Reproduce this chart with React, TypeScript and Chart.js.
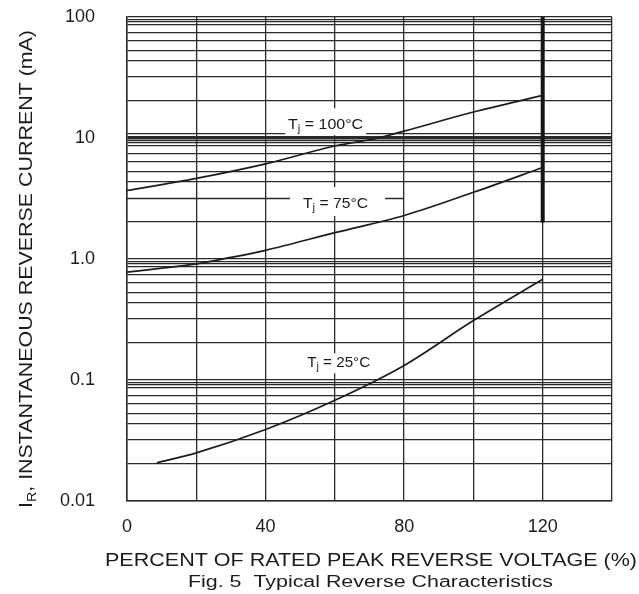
import React, { useEffect, useRef } from "react";
import { Chart, registerables } from "chart.js";

Chart.register(...registerables);

// ---------- values ----------
const xTicks = [0, 20, 40, 60, 80, 100, 120, 140];
const xTickLabels = ["0", "", "40", "", "80", "", "120", ""];
const yDecades = [0.01, 0.1, 1, 10, 100];
const yDecadeLabels = ["0.01", "0.1", "1.0", "10", "100"];
const yMinorFactors = [2.05, 3.2, 4.37, 5.3, 6.4, 7.45, 8.6, 9.12, 9.54];
const yExtraGrid = [10.9];
const yPartialGrid = 3.2; // broken grid line beside the 75°C label
const yPartialGridEndPct = 80;
const heavyGridValue = 10;

const pct100C = [0, 20, 40, 60, 72.5, 80, 100, 120];
const ir100C = [3.68, 4.64, 6.12, 8.59, 10, 11.4, 16.4, 22.5];
const pct75C = [0, 20, 30, 40, 60, 80, 100, 120];
const ir75C = [0.78, 0.91, 1.03, 1.18, 1.65, 2.29, 3.56, 5.7];
const pct25C = [8.6, 20, 40, 60, 80, 100, 120];
const ir25C = [0.0207, 0.025, 0.039, 0.068, 0.132, 0.31, 0.68];

const limitPct = [120, 120];
const limitIr = [100, 2.0];

const curveTemps = ["100°C", "75°C", "25°C"];
const labelPct = [46.5, 50.8, 52];
const labelIr = [13.0, 2.9, 0.14];

const xTitle = "PERCENT OF RATED PEAK REVERSE VOLTAGE (%)";
const caption = "Fig. 5  Typical Reverse Characteristics";
const yTitleMain = "I";
const yTitleSub = "R";
const yTitleRest = ", INSTANTANEOUS REVERSE CURRENT (mA)";

// ---------- styling ----------
const FONT = '"Liberation Sans", Arial, Helvetica, sans-serif';
const INK = "#1c1c1c";
const GRID = "#2a2a2a";

type Seg = { t: string; sub?: boolean };

// draws segments starting at (x, y), stretched horizontally to the target width
function drawSegs(
  ctx: CanvasRenderingContext2D,
  segs: Seg[],
  x: number,
  y: number,
  size: number,
  subSize: number,
  subDrop: number,
  target: number
) {
  const widths = segs.map((s) => {
    ctx.font = `${s.sub ? subSize : size}px ${FONT}`;
    return ctx.measureText(s.t).width;
  });
  const natural = widths.reduce((a, b) => a + b, 0);
  const sx = target / natural;
  ctx.save();
  ctx.translate(x, y);
  ctx.scale(sx, 1);
  let cx = 0;
  segs.forEach((s, i) => {
    ctx.font = `${s.sub ? subSize : size}px ${FONT}`;
    ctx.fillText(s.t, cx, s.sub ? subDrop : 0);
    cx += widths[i];
  });
  ctx.restore();
}

const labelBoxes = [
  { dx0: -3, dx1: 78, dy0: -16, dy1: 11, width: 75 },
  { dx0: -13, dx1: 82, dy0: -16, dy1: 13, width: 65 },
  { dx0: -12, dx1: 71, dy0: -9, dy1: 11, width: 63 },
];

const decorPlugin = {
  id: "decor",
  beforeDatasetsDraw(chart: any) {
    const ctx: CanvasRenderingContext2D = chart.ctx;
    const xs = chart.scales.x;
    const ys = chart.scales.y;
    ctx.save();
    ctx.strokeStyle = GRID;
    ctx.lineWidth = 1.3;
    const py = Math.round(ys.getPixelForValue(yPartialGrid)) + 0.5;
    ctx.beginPath();
    ctx.moveTo(xs.getPixelForValue(0), py);
    ctx.lineTo(xs.getPixelForValue(yPartialGridEndPct), py);
    ctx.stroke();
    ctx.fillStyle = "#ffffff";
    labelBoxes.forEach((b, i) => {
      const lx = xs.getPixelForValue(labelPct[i]);
      const ly = ys.getPixelForValue(labelIr[i]);
      ctx.fillRect(lx + b.dx0, ly + b.dy0, b.dx1 - b.dx0, b.dy1 - b.dy0);
    });
    ctx.restore();
  },
  afterDraw(chart: any) {
    const ctx: CanvasRenderingContext2D = chart.ctx;
    const xs = chart.scales.x;
    const ys = chart.scales.y;
    ctx.save();
    ctx.fillStyle = INK;
    ctx.textBaseline = "alphabetic";
    ctx.textAlign = "left";
    curveTemps.forEach((t, i) => {
      const lx = xs.getPixelForValue(labelPct[i]);
      const ly = ys.getPixelForValue(labelIr[i]);
      drawSegs(ctx, [{ t: "T" }, { t: "j", sub: true }, { t: " = " + t }], lx, ly + 5, 14, 10, 3, labelBoxes[i].width);
    });
    drawSegs(ctx, [{ t: xTitle }], 105, 565.5, 18, 12, 0, 532);
    drawSegs(ctx, [{ t: caption }], 188, 587, 16, 12, 0, 365);
    ctx.translate(31.5, 269);
    ctx.rotate(-Math.PI / 2);
    drawSegs(
      ctx,
      [{ t: yTitleMain }, { t: yTitleSub, sub: true }, { t: yTitleRest }],
      -239,
      0,
      18,
      12,
      4,
      478
    );
    ctx.restore();
  },
};

function pts(xs: number[], ys: number[]) {
  return xs.map((x, i) => ({ x, y: ys[i] }));
}

export default function App() {
  const ref = useRef<HTMLCanvasElement | null>(null);

  useEffect(() => {
    if (!ref.current) return;
    const gridValues: number[] = [];
    yDecades.forEach((d, i) => {
      gridValues.push(d);
      if (i < yDecades.length - 1) {
        yMinorFactors.forEach((f) => {
          if (!(d === 1 && f === yPartialGrid)) gridValues.push(d * f);
        });
      }
    });
    yExtraGrid.forEach((v) => gridValues.push(v));
    gridValues.sort((a, b) => a - b);

    const lineDs = (data: any[], width: number) => ({
      data,
      borderColor: INK,
      borderWidth: width,
      pointRadius: 0,
      cubicInterpolationMode: "monotone" as const,
      fill: false,
    });

    const chart = new Chart(ref.current, {
      type: "line",
      data: {
        datasets: [
          lineDs(pts(pct100C, ir100C), 1.7),
          lineDs(pts(pct75C, ir75C), 1.7),
          lineDs(pts(pct25C, ir25C), 1.7),
          { ...lineDs(pts(limitPct, limitIr), 4), borderColor: "#151515" },
        ],
      },
      options: {
        animation: false,
        responsive: false,
        maintainAspectRatio: false,
        layout: { padding: { left: 0, right: 27, top: 17, bottom: 0 } },
        plugins: { legend: { display: false }, tooltip: { enabled: false } },
        scales: {
          x: {
            type: "linear",
            min: 0,
            max: 140,
            afterBuildTicks: (s: any) => {
              s.ticks = xTicks.map((v) => ({ value: v }));
            },
            afterFit: (s: any) => {
              s.height = 93;
              s.paddingLeft = 0;
              s.paddingRight = 0;
              s.paddingTop = 0;
              s.paddingBottom = 0;
            },
            ticks: {
              autoSkip: false,
              maxRotation: 0,
              padding: 15,
              color: INK,
              font: { family: FONT, size: 18 },
              callback: (_v: any, i: number) => xTickLabels[i],
            },
            grid: { color: GRID, lineWidth: 1.3, drawTicks: false },
            border: { color: GRID, width: 1.5 },
          },
          y: {
            type: "logarithmic",
            min: 0.01,
            max: 100,
            afterBuildTicks: (s: any) => {
              s.ticks = gridValues.map((v) => ({ value: v }));
            },
            afterFit: (s: any) => {
              s.width = 127;
              s.paddingLeft = 0;
              s.paddingRight = 0;
              s.paddingTop = 0;
              s.paddingBottom = 0;
            },
            ticks: {
              autoSkip: false,
              padding: 32,
              color: INK,
              font: { family: FONT, size: 18 },
              callback: (v: any) => {
                const i = yDecades.findIndex((d) => Math.abs(d - Number(v)) < d * 1e-6);
                return i >= 0 ? yDecadeLabels[i] : "";
              },
            },
            grid: {
              color: GRID,
              drawTicks: false,
              lineWidth: (c: any) =>
                c.tick && Math.abs(c.tick.value - heavyGridValue) < 1e-6 ? 3.5 : 1.3,
            },
            border: { color: GRID, width: 1.5 },
          },
        },
      },
      plugins: [decorPlugin],
    } as any);

    return () => chart.destroy();
  }, []);

  return (
    <div style={{ position: "fixed", left: 0, top: 0, width: 639, height: 594, background: "#fff" }}>
      <canvas ref={ref} width={639} height={594} style={{ width: 639, height: 594, display: "block" }} />
    </div>
  );
}
